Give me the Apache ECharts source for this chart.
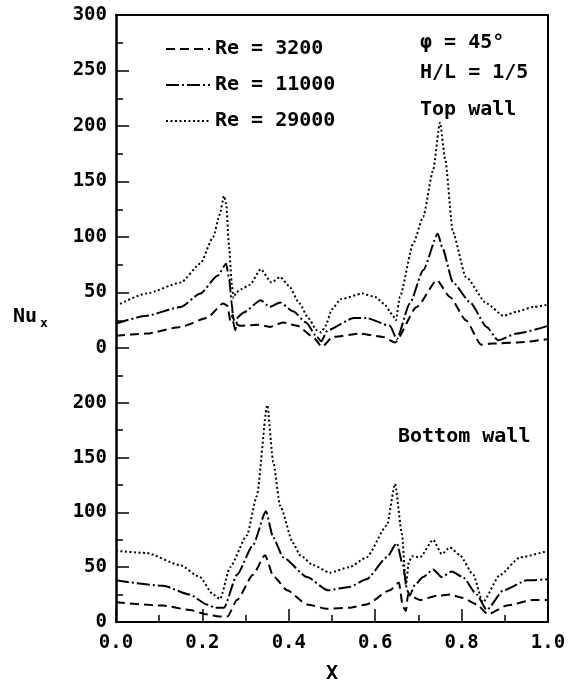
<!DOCTYPE html>
<html>
<head>
<meta charset="utf-8">
<script src="https://cdn.jsdelivr.net/npm/echarts@6/dist/echarts.min.js"></script>
<style>html,body{margin:0;padding:0;background:#fff;}#c{width:573px;height:685px;}</style>
</head>
<body>
<div id="c"></div>
<script>
// ---- data (X, Nu_x) ----
var seriesNames = ['Re = 3200', 'Re = 11000', 'Re = 29000'];
var xTicks = [0.0, 0.2, 0.4, 0.6, 0.8, 1.0];
var topTicks = [0, 50, 100, 150, 200, 250, 300];
var bottomTicks = [0, 50, 100, 150, 200];

var top3200 = [[0,11],[0.07,13],[0.15,19],[0.21,27],[0.248,40],[0.258,38],[0.265,24],[0.27,30],[0.275,22],[0.287,20],[0.33,21],[0.356,19],[0.387,23],[0.42,20],[0.456,10],[0.477,1],[0.502,10],[0.565,13],[0.618,10],[0.646,5],[0.696,37],[0.743,61],[0.773,46],[0.81,25],[0.845,3],[0.87,4],[0.93,5],[1.0,8]];
var top11000 = [[0,22],[0.07,29],[0.15,37],[0.195,49],[0.235,65],[0.255,76],[0.262,62],[0.268,40],[0.272,22],[0.276,16],[0.282,28],[0.295,32],[0.335,43],[0.356,37],[0.38,41],[0.41,33],[0.44,23],[0.465,10],[0.475,6],[0.49,16],[0.55,27],[0.58,27],[0.634,20],[0.65,8],[0.68,40],[0.711,70],[0.745,103],[0.755,91],[0.78,59],[0.82,41],[0.858,19],[0.884,7],[0.928,13],[1.0,20]];
var top29000 = [[0,38],[0.07,49],[0.15,59],[0.195,76],[0.225,100],[0.24,120],[0.25,137],[0.255,130],[0.262,90],[0.268,58],[0.272,45],[0.278,50],[0.29,53],[0.31,57],[0.335,71],[0.36,59],[0.38,64],[0.40,56],[0.425,40],[0.445,27],[0.465,16],[0.475,14],[0.485,20],[0.5,35],[0.52,44],[0.57,49],[0.6,46],[0.62,40],[0.64,30],[0.648,25],[0.657,46],[0.688,94],[0.711,118],[0.734,160],[0.75,203],[0.762,170],[0.78,104],[0.81,64],[0.858,40],[0.897,29],[0.93,33],[0.966,37],[1.0,39]];

var bot3200 = [[0,18],[0.109,15],[0.171,11],[0.21,7],[0.24,5],[0.258,5],[0.28,20],[0.317,43],[0.345,61],[0.364,42],[0.396,29],[0.442,16],[0.49,12],[0.54,13],[0.58,16],[0.634,29],[0.655,36],[0.664,14],[0.671,10],[0.676,25],[0.704,20],[0.743,24],[0.773,25],[0.803,22],[0.835,16],[0.861,7],[0.905,15],[0.965,20],[1.0,20]];
var bot11000 = [[0,38],[0.109,33],[0.171,25],[0.21,16],[0.23,13],[0.25,13],[0.28,43],[0.317,70],[0.347,101],[0.364,77],[0.387,59],[0.442,41],[0.49,29],[0.54,32],[0.58,39],[0.627,59],[0.65,72],[0.664,52],[0.674,29],[0.68,24],[0.692,34],[0.711,41],[0.734,48],[0.754,41],[0.777,46],[0.803,41],[0.835,25],[0.858,11],[0.897,29],[0.951,38],[1.0,39]];
var bot29000 = [[0,65],[0.07,63],[0.148,52],[0.194,41],[0.225,25],[0.241,21],[0.264,50],[0.303,79],[0.326,115],[0.35,198],[0.364,146],[0.38,106],[0.41,72],[0.426,61],[0.456,52],[0.495,45],[0.54,50],[0.58,59],[0.627,88],[0.646,126],[0.662,80],[0.671,34],[0.678,55],[0.685,60],[0.704,59],[0.734,75],[0.754,62],[0.773,68],[0.796,61],[0.827,43],[0.849,18],[0.889,43],[0.935,59],[1.0,65]];

var FONT = '"DejaVu Sans Mono", "Liberation Mono", monospace';
var dashTypes = [[9, 5], [13, 3, 2, 3], [2, 2.5]];

var chart = echarts.init(document.getElementById('c'), null, {renderer: 'canvas'});

var axisLineStyle = {color: '#000', width: 2};
var tickStyle = {color: '#000', width: 1.5};

function mkSeries(name, data, gi, k) {
  return {
    name: name, type: 'line', data: data,
    xAxisIndex: gi, yAxisIndex: gi,
    symbol: 'none', smooth: 0.2, smoothMonotone: 'x',
    lineStyle: {color: '#000', width: 2, type: dashTypes[k]},
    itemStyle: {color: '#000'},
    animation: false, z: 3
  };
}

var option = {
  backgroundColor: '#fff',
  animation: false,
  grid: [
    {left: 116, right: 25, top: 15, height: 333},
    {left: 116, right: 25, top: 348, bottom: 60}
  ],
  legend: {
    data: seriesNames,
    orient: 'vertical',
    left: 160, top: 34,
    itemWidth: 44, itemHeight: 14, itemGap: 16,
    selectedMode: false,
    itemStyle: {opacity: 0},
    textStyle: {fontFamily: FONT, fontSize: 20, color: '#000', fontWeight: 'bold'}
  },
  xAxis: [
    {gridIndex: 0, type: 'value', min: 0, max: 1, position: 'top',
      axisLine: {show: true, onZero: false, lineStyle: axisLineStyle},
      axisTick: {show: false}, axisLabel: {show: false}, splitLine: {show: false}},
    {gridIndex: 1, type: 'value', min: 0, max: 1, interval: 0.2, position: 'bottom',
      name: 'X', nameLocation: 'middle', nameGap: 42,
      nameTextStyle: {fontFamily: FONT, fontSize: 20, color: '#000', fontWeight: 'bold'},
      axisLine: {show: true, onZero: false, lineStyle: axisLineStyle},
      axisTick: {show: true, inside: true, length: 13, lineStyle: tickStyle},
      minorTick: {show: true, splitNumber: 2, length: 7, lineStyle: tickStyle},
      axisLabel: {margin: 12, fontFamily: FONT, fontSize: 19, color: '#000', fontWeight: 'bold',
        formatter: function (v) { return xTicks.indexOf(Math.round(v * 10) / 10) >= 0 ? v.toFixed(1) : ''; }},
      splitLine: {show: false}}
  ],
  yAxis: [
    {gridIndex: 0, type: 'value', min: 0, max: 300, interval: 50, position: 'left',
      axisLine: {show: true, onZero: false, lineStyle: {color: '#000', width: 2.5}},
      axisTick: {show: true, inside: true, length: 13, lineStyle: tickStyle},
      minorTick: {show: true, splitNumber: 2, length: 7, lineStyle: tickStyle},
      axisLabel: {margin: 9, fontFamily: FONT, fontSize: 19, color: '#000', fontWeight: 'bold',
        formatter: function (v) { return topTicks.indexOf(v) >= 0 ? String(v) : ''; }},
      splitLine: {show: false}},
    {gridIndex: 1, type: 'value', min: 0, max: 250, interval: 50, position: 'left',
      axisLine: {show: true, onZero: false, lineStyle: {color: '#000', width: 2.5}},
      axisTick: {show: true, inside: true, length: 13, lineStyle: tickStyle},
      minorTick: {show: true, splitNumber: 2, length: 7, lineStyle: tickStyle},
      axisLabel: {margin: 9, fontFamily: FONT, fontSize: 19, color: '#000', fontWeight: 'bold',
        formatter: function (v) { return bottomTicks.indexOf(v) >= 0 ? String(v) : ''; }},
      splitLine: {show: false}},
    {gridIndex: 0, type: 'value', min: 0, max: 300, position: 'right',
      axisLine: {show: true, onZero: false, lineStyle: axisLineStyle},
      axisTick: {show: false}, axisLabel: {show: false}, splitLine: {show: false}},
    {gridIndex: 1, type: 'value', min: 0, max: 250, position: 'right',
      axisLine: {show: true, onZero: false, lineStyle: axisLineStyle},
      axisTick: {show: false}, axisLabel: {show: false}, splitLine: {show: false}}
  ],
  series: [
    mkSeries(seriesNames[0], top3200, 0, 0),
    mkSeries(seriesNames[1], top11000, 0, 1),
    mkSeries(seriesNames[2], top29000, 0, 2),
    mkSeries(seriesNames[0], bot3200, 1, 0),
    mkSeries(seriesNames[1], bot11000, 1, 1),
    mkSeries(seriesNames[2], bot29000, 1, 2)
  ],
  graphic: [
    {type: 'text', x: 13, y: 317, style: {text: 'Nu', font: 'bold 20px ' + FONT, fill: '#000', verticalAlign: 'middle'}},
    {type: 'text', x: 40, y: 324, style: {text: 'x', font: 'bold 13px ' + FONT, fill: '#000', verticalAlign: 'middle'}},
    {type: 'text', x: 420, y: 43, style: {text: 'φ = 45°', font: 'bold 20px ' + FONT, fill: '#000', verticalAlign: 'middle'}},
    {type: 'text', x: 420, y: 73, style: {text: 'H/L = 1/5', font: 'bold 20px ' + FONT, fill: '#000', verticalAlign: 'middle'}},
    {type: 'text', x: 420, y: 110, style: {text: 'Top wall', font: 'bold 20px ' + FONT, fill: '#000', verticalAlign: 'middle'}},
    {type: 'text', x: 398, y: 437, style: {text: 'Bottom wall', font: 'bold 20px ' + FONT, fill: '#000', verticalAlign: 'middle'}}
  ]
};
chart.setOption(option);
</script>
</body>
</html>
